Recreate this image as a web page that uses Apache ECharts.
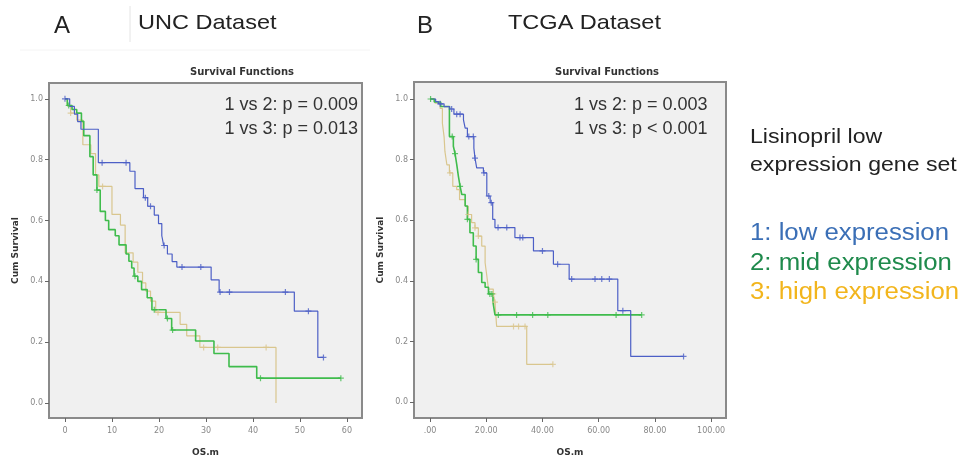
<!DOCTYPE html>
<html lang="en">
<head>
  <meta charset="UTF-8">
  <title>Survival Functions - UNC / TCGA</title>
  <script src="https://cdn.jsdelivr.net/npm/echarts@6/dist/echarts.min.js"></script>
  <style>
    html, body { margin: 0; padding: 0; background: #fff; }
    #chart { width: 967px; height: 462px; }
  </style>
</head>
<body>
  <div id="chart"></div>
  <script>
    var myChart = echarts.init(document.getElementById('chart'));

    // tick labels
    const timeTicksA = [0, 10, 20, 30, 40, 50, 60];
    const timeTicksB = [0, 20, 40, 60, 80, 100];
    const survTicks = [0, 0.2, 0.4, 0.6, 0.8, 1.0];

    // group names
    const groups = ['1: low expression', '2: mid expression', '3: high expression'];

    // UNC dataset, KM steps [time, cum survival]
    const uncLow = [[0,1.0],[1.0,0.975],[2.0,0.95],[2.7,0.925],[3.4,0.9],[7.1,0.79],[13.8,0.762],[14.9,0.705],[16.7,0.675],[17.6,0.647],[19.0,0.618],[19.9,0.59],[20.6,0.55],[21.0,0.518],[21.8,0.49],[22.8,0.465],[23.8,0.447],[31.1,0.405],[32.8,0.365],[48.8,0.302],[53.8,0.15],[55.0,0.15]];
    const uncMid = [[0,1.0],[0.5,0.978],[1.5,0.965],[2.5,0.953],[3.5,0.926],[4.0,0.879],[5.3,0.81],[6.0,0.75],[6.8,0.70],[7.5,0.63],[8.6,0.60],[9.3,0.57],[10.7,0.55],[11.5,0.52],[13.0,0.49],[13.6,0.466],[14.2,0.444],[14.7,0.417],[15.5,0.40],[16.3,0.373],[17.5,0.346],[18.5,0.307],[21.5,0.278],[22.7,0.24],[27.8,0.204],[31.7,0.163],[34.9,0.12],[40.8,0.082],[58.7,0.082]];
    const uncHigh = [[0,1.0],[0.5,0.977],[1.2,0.953],[2.5,0.93],[3.8,0.849],[5.5,0.82],[6.5,0.75],[7.2,0.712],[10.0,0.62],[11.8,0.585],[12.8,0.494],[14.5,0.463],[15.5,0.43],[16.5,0.395],[17.2,0.368],[18.2,0.335],[19.3,0.298],[24.5,0.259],[25.9,0.221],[28.7,0.183],[44.9,0.0]];
    // censored cases
    const uncLowCens = [[0,1.0],[7.9,0.79],[13,0.79],[17.1,0.675],[18.2,0.647],[21.1,0.518],[24.9,0.447],[28.9,0.447],[33.0,0.365],[35,0.365],[46.9,0.365],[51.8,0.302],[55,0.15]];
    const uncMidCens = [[0.8,0.978],[6.8,0.70],[14.9,0.417],[19,0.307],[21.8,0.278],[22.9,0.24],[41.6,0.082],[58.7,0.082]];
    const uncHighCens = [[1.2,0.953],[8,0.712],[19.8,0.298],[29.5,0.183],[32.5,0.183],[42.8,0.183]];

    // TCGA dataset
    const tcgaLow = [[0,1.0],[2,0.991],[3,0.984],[5,0.975],[7,0.967],[8.5,0.95],[11.9,0.931],[12.5,0.904],[13.3,0.876],[15.6,0.838],[16,0.805],[16.6,0.773],[19,0.756],[20.2,0.68],[21.4,0.658],[22.3,0.603],[23.1,0.576],[30.2,0.543],[36.8,0.499],[43.9,0.455],[49.5,0.406],[66.8,0.302],[71.4,0.151],[90.2,0.151]];
    const tcgaMid = [[0,1.0],[1.5,0.99],[3.8,0.975],[6.9,0.876],[8.3,0.844],[8.9,0.82],[9.5,0.784],[10.1,0.745],[10.7,0.712],[11.3,0.685],[12.5,0.647],[13.3,0.603],[14.2,0.559],[15.4,0.515],[16.4,0.471],[17.2,0.428],[18.4,0.395],[19.6,0.379],[20.8,0.357],[22.4,0.33],[23.1,0.288],[75.3,0.288]];
    const tcgaHigh = [[0,1.0],[1.8,0.986],[3.6,0.969],[4.4,0.92],[5.0,0.876],[5.3,0.827],[6.0,0.783],[6.9,0.756],[8.1,0.712],[9.5,0.701],[10.5,0.668],[12.5,0.647],[13.6,0.619],[14.8,0.592],[16,0.575],[17.2,0.548],[18.4,0.515],[19.6,0.46],[20.2,0.417],[20.8,0.373],[22.5,0.357],[23.1,0.33],[23.7,0.25],[34.4,0.125],[43.7,0.125]];
    const tcgaLowCens = [[3.6,0.984],[7.7,0.967],[9.5,0.95],[10.7,0.95],[13.8,0.876],[15.4,0.876],[16,0.805],[19.2,0.756],[20.9,0.68],[21.8,0.658],[24.2,0.576],[27.3,0.576],[32,0.543],[33,0.543],[40,0.499],[45.4,0.455],[50.4,0.406],[58.7,0.406],[61.1,0.406],[63.8,0.406],[68.6,0.302],[90.2,0.151]];
    const tcgaMidCens = [[0.2,1.0],[7.9,0.876],[8.9,0.82],[10.7,0.712],[13.3,0.603],[16.4,0.471],[21.3,0.357],[22,0.357],[24.3,0.288],[30.8,0.288],[36.5,0.288],[41.9,0.288],[66.2,0.288],[75.3,0.288]];
    const tcgaHighCens = [[7.1,0.756],[13.6,0.619],[16,0.575],[17.2,0.548],[22.5,0.357],[23.1,0.33],[29.7,0.25],[31.5,0.25],[33.8,0.25],[43.7,0.125]];

    const lineColors = ['#4c5fc6', '#3fbc4c', '#d9c68e'];
    const textColors = ['#3b6fb6', '#1f8a4c', '#f2b51d'];
    const plus = 'path://M4,0h2v4h4v2h-4v4h-2v-4h-4v-2h4z';

    function kmSeries(data, idx, gi) {
      return {
        type: 'line', step: 'end', xAxisIndex: gi, yAxisIndex: gi,
        data: data, symbol: 'none', silent: true,
        lineStyle: { color: lineColors[idx], width: idx === 1 ? 1.6 : 1.2 },
        z: idx === 2 ? 2 : 3
      };
    }
    function censSeries(data, idx, gi) {
      return {
        type: 'scatter', xAxisIndex: gi, yAxisIndex: gi,
        data: data, symbol: plus, symbolSize: 6, silent: true,
        itemStyle: { color: lineColors[idx] }, z: 4
      };
    }

    const tickLabel = { color: '#888', fontSize: 8, fontFamily: 'DejaVu Sans' };
    const axisName = { color: '#333', fontSize: 9, fontWeight: 'bold', fontFamily: 'DejaVu Sans' };

    function xAxisOf(gi, min, max, ticks, fmt) {
      return {
        type: 'value', gridIndex: gi, min: min, max: max,
        name: 'OS.m', nameLocation: 'middle', nameGap: 30, nameTextStyle: axisName,
        axisLine: { show: false, onZero: false },
        axisTick: { show: true, length: 4, customValues: ticks, lineStyle: { color: '#666' } },
        axisLabel: Object.assign({ customValues: ticks, formatter: fmt, margin: 9 }, tickLabel),
        splitLine: { show: false }
      };
    }
    function yAxisOf(gi, min, max) {
      return {
        type: 'value', gridIndex: gi, min: min, max: max,
        name: 'Cum Survival', nameLocation: 'middle', nameGap: 29, nameRotate: 90, nameTextStyle: axisName,
        axisLine: { show: false, onZero: false },
        axisTick: { show: true, length: 4, customValues: survTicks, lineStyle: { color: '#666' } },
        axisLabel: Object.assign({ customValues: survTicks, formatter: v => v.toFixed(1), margin: 6 }, tickLabel),
        splitLine: { show: false }
      };
    }

    const gridStyle = { show: true, backgroundColor: '#f0f0f0', borderColor: '#8a8a8a', borderWidth: 2 };

    function txt(x, y, text, size, color, opts) {
      return Object.assign({
        type: 'text', x: x, y: y, silent: true,
        style: Object.assign({ text: text, fontSize: size, fill: color, fontFamily: 'Liberation Sans, Arial, sans-serif', textVerticalAlign: 'middle' }, opts && opts.style)
      }, opts && opts.el);
    }

    var option = {
      backgroundColor: '#fff',
      animation: false,
      grid: [
        Object.assign({ left: 49, top: 83, width: 313, height: 336 }, gridStyle),
        Object.assign({ left: 414, top: 82, width: 312, height: 338 }, gridStyle)
      ],
      xAxis: [
        xAxisOf(0, -3.4, 63.2, timeTicksA, v => String(v)),
        xAxisOf(1, -5.7, 105.3, timeTicksB, v => v === 0 ? '.00' : v.toFixed(2))
      ],
      yAxis: [
        yAxisOf(0, -0.049, 1.052),
        yAxisOf(1, -0.052, 1.056)
      ],
      series: [
        kmSeries(uncHigh, 2, 0), kmSeries(uncMid, 1, 0), kmSeries(uncLow, 0, 0),
        censSeries(uncHighCens, 2, 0), censSeries(uncMidCens, 1, 0), censSeries(uncLowCens, 0, 0),
        kmSeries(tcgaHigh, 2, 1), kmSeries(tcgaMid, 1, 1), kmSeries(tcgaLow, 0, 1),
        censSeries(tcgaHighCens, 2, 1), censSeries(tcgaMidCens, 1, 1), censSeries(tcgaLowCens, 0, 1)
      ],
      graphic: [
        { type: 'line', silent: true, shape: { x1: 130, y1: 6, x2: 130, y2: 42 }, style: { stroke: '#e4e4e4', lineWidth: 1 } },
        { type: 'line', silent: true, shape: { x1: 20, y1: 50, x2: 370, y2: 50 }, style: { stroke: '#f4f4f4', lineWidth: 1 } },
        txt(54, 26, 'A', 24, '#222'),
        txt(417, 26, 'B', 24, '#222'),
        txt(138, 23, 'UNC Dataset', 21, '#222', { el: { scaleX: 1.12 } }),
        txt(508, 23, 'TCGA Dataset', 21, '#222', { el: { scaleX: 1.12 } }),
        txt(242, 72, 'Survival Functions', 10, '#333', { style: { fontWeight: 'bold', fontFamily: 'DejaVu Sans', textAlign: 'center' } }),
        txt(607, 72, 'Survival Functions', 10, '#333', { style: { fontWeight: 'bold', fontFamily: 'DejaVu Sans', textAlign: 'center' } }),
        txt(358, 105, '1 vs 2: p = 0.009', 18, '#333', { style: { textAlign: 'right' } }),
        txt(358, 129, '1 vs 3: p = 0.013', 18, '#333', { style: { textAlign: 'right' } }),
        txt(574, 105, '1 vs 2: p = 0.003', 18, '#333'),
        txt(574, 129, '1 vs 3: p < 0.001', 18, '#333'),
        txt(750, 137, 'Lisinopril low', 21, '#222', { el: { scaleX: 1.1 } }),
        txt(750, 165, 'expression gene set', 21, '#222', { el: { scaleX: 1.1 } }),
        txt(750, 234, groups[0], 23, textColors[0], { el: { scaleX: 1.12 } }),
        txt(750, 264, groups[1], 23, textColors[1], { el: { scaleX: 1.12 } }),
        txt(750, 293, groups[2], 23, textColors[2], { el: { scaleX: 1.12 } })
      ]
    };

    myChart.setOption(option);
  </script>
</body>
</html>
